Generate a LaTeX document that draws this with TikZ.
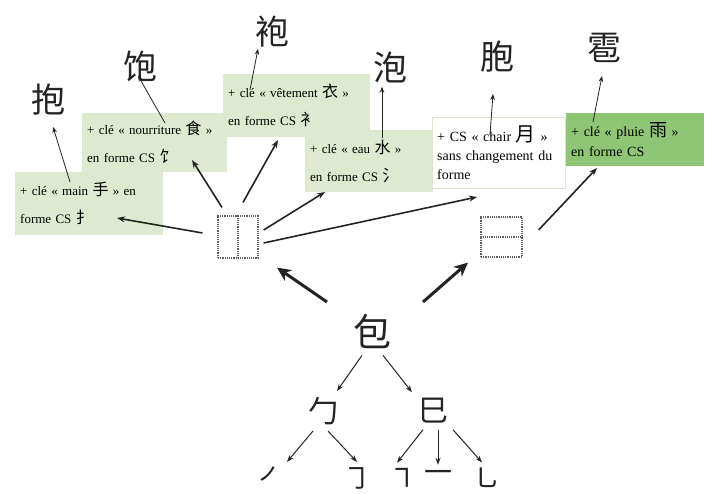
\documentclass[tikz,border=0pt]{standalone}
\usepackage{fontspec}
\setmainfont{Liberation Serif}
\newfontfamily\cjk{Noto Sans CJK SC}
\usetikzlibrary{positioning, arrows.meta}
\definecolor{cleGreen}{RGB}{221,234,208}
\definecolor{pluieGreen}{RGB}{143,198,118}
\definecolor{chairLine}{RGB}{226,226,204}
\definecolor{dotGray}{RGB}{95,95,95}
\definecolor{inkGray}{RGB}{35,35,35}
\newcommand{\widesp}[1]{\spaceskip=#1\relax}
\tikzset{
  clebox/.style     = {fill=cleGreen, anchor=north west, align=left, inner xsep=5pt, inner ysep=2pt,
                       font=\fontsize{13}{28}\selectfont\widesp{6pt}},
  chairbox/.style   = {clebox, fill=white, draw=chairLine,
                       font=\fontsize{14}{19}\selectfont\widesp{5pt}},   % no radical change
  pluiebox/.style   = {clebox, fill=pluieGreen, font=\fontsize{14}{20}\selectfont\widesp{6pt}},
  hanzi/.style      = {inner sep=0pt, text=inkGray, font=\cjk\fontsize{34}{34}\selectfont},
  treechar/.style   = {inner sep=6pt, text=inkGray, font=\cjk\fontsize{30}{30}\selectfont},
  strokechar/.style = {inner sep=5pt, text=inkGray, font=\cjk\fontsize{28}{28}\selectfont},
  dotbox/.style     = {draw=dotGray, densely dotted, line width=1.2pt, inner sep=0pt},
  linkarrow/.style  = {-{Stealth[length=6pt, width=4.5pt]}, line width=0.8pt, draw=inkGray},
  treearrow/.style  = {-{Stealth[length=7pt, width=5pt]}, line width=1pt, draw=inkGray},
  formarrow/.style  = {-{Stealth[length=8pt, width=6pt]}, line width=1.6pt, draw=inkGray},
  bigarrow/.style   = {-{Stealth[length=14pt, width=13pt]}, line width=3pt, draw=inkGray},
}
\newcommand{\han}[2][16]{{\cjk\fontsize{#1}{#1}\selectfont #2}}

\begin{document}
\begin{tikzpicture}[x=1pt, y=-1pt]
  \useasboundingbox (0,0) rectangle (705,494);

  % radical boxes
  \node[clebox, minimum width=147, minimum height=63, text width=137] at (223, 74) (byi)
       {+ clé «~vêtement \han{衣}~»\\en forme CS \han{衤}};
  \node[clebox, minimum width=141, minimum height=59, text width=135,
        font=\fontsize{13}{28}\selectfont\widesp{9pt}] at ( 82,113) (bshi)
       {+ clé « nourriture \han{食} »\\en forme CS \han{饣}};
  \node[clebox, minimum width=148, minimum height=63, text width=138] at ( 15,172) (bshou)
       {+ clé «~main \han{手}~» en\\forme CS \han{扌}};
  \node[clebox, minimum width=128, minimum height=62, text width=118] at (305,130) (bshui)
       {+ clé «~eau \han{水}~»\\en forme CS \han{氵}};
  \node[chairbox, minimum width=133, minimum height=71, text width=123] at (432,117) (brou)
       {+ CS «~chair \han[20]{月}~»\\sans changement du\\forme};
  \node[pluiebox, minimum width=138, minimum height=53, text width=128] at (566,113) (byu)
       {+ clé «~pluie \han[18]{雨}~»\\en forme CS};

  % derived characters
  \node[hanzi] at ( 48,100) (hshou) {抱};
  \node[hanzi] at (140, 66) (hshi)  {饱};
  \node[hanzi] at (272, 32) (hyi)   {袍};
  \node[hanzi] at (390, 67) (hshui) {泡};
  \node[hanzi] at (497, 57) (hrou)  {胞};
  \node[hanzi] at (604, 48) (hyu)   {雹};

  \draw[linkarrow] ([shift={(55,10)}]bshou.north west) -- ([shift={(5,11)}]hshou.south);
  \draw[linkarrow] ([shift={(83,10)}]bshi.north west)  -- ([shift={(-2,-6)}]hshi.south);
  \draw[linkarrow] ([shift={(27,16)}]byi.north west)   -- ([shift={(-14,1)}]hyi.south);
  \draw[linkarrow] ([shift={(77,8)}]bshui.north west)  -- ([shift={(-8,4)}]hshui.south);
  \draw[linkarrow] ([shift={(58,18)}]brou.north west)  -- ([shift={(-4,21)}]hrou.south);
  \draw[linkarrow] ([shift={(27,9)}]byu.north west)    -- ([shift={(-2,13)}]hyu.south);

  % structure squares
  \node[dotbox, minimum width=40, minimum height=42] at (238,237)   (sqlr) {};
  \draw[dotbox] (sqlr.north) -- (sqlr.south);
  \node[dotbox, minimum width=41, minimum height=40] at (501.5,237) (sqtb) {};
  \draw[dotbox] (sqtb.west) -- (sqtb.east);

  \draw[formarrow] ([shift={(-15,-4)}]sqlr.west) -- ([shift={(102,46)}]bshou.north west);
  \draw[formarrow] ([shift={(-16,-8)}]sqlr.north) -- ([shift={(110,47)}]bshi.north west);
  \draw[formarrow] ([shift={(5,-13)}]sqlr.north)  -- ([shift={(55,66)}]byi.north west);
  \draw[formarrow] ([shift={(5,-7)}]sqlr.east)    -- ([shift={(20,62)}]bshui.north west);
  \draw[formarrow] ([shift={(5,6)}]sqlr.east)     -- ([shift={(45,80)}]brou.north west);
  \draw[formarrow] ([shift={(16,-7)}]sqtb.east)   -- ([shift={(31,55)}]byu.north west);

  % decomposition tree
  \node[treechar, font=\cjk\fontsize{38}{38}\selectfont] at (372,332) (tbao) {包};
  \node[treechar] at (323,411) (tbaoA) {勹};
  \node[treechar] at (433,411) (tsi)   {巳};
  \node[strokechar] at (272,478) (s1) {㇒};
  \node[strokechar] at (357,478) (s2) {㇆};
  \node[strokechar] at (402,478) (s3) {㇕};
  \node[strokechar] at (438,476) (s4) {一};
  \node[strokechar] at (487,478) (s5) {㇟};

  \draw[bigarrow] ([shift={(-45,-30)}]tbao.center) -- ([shift={(39,9)}]sqlr.south);
  \draw[bigarrow] ([shift={(51,-30)}]tbao.center)  -- ([shift={(-33.5,5)}]sqtb.south);

  \draw[treearrow] ([xshift=-10]tbao.south)  -- ([xshift=14]tbaoA.north);
  \draw[treearrow] ([xshift=11]tbao.south)   -- ([xshift=-21]tsi.north);
  \draw[treearrow] ([xshift=-10]tbaoA.south) -- ([xshift=15]s1.north);
  \draw[treearrow] ([xshift=5]tbaoA.south)   -- (s2.north);
  \draw[treearrow] ([xshift=-10]tsi.south)   -- ([xshift=-5]s3.north);
  \draw[treearrow] ([xshift=5]tsi.south)     -- (s4.north);
  \draw[treearrow] ([xshift=20]tsi.south)    -- ([xshift=-5]s5.north);
\end{tikzpicture}
\end{document}
